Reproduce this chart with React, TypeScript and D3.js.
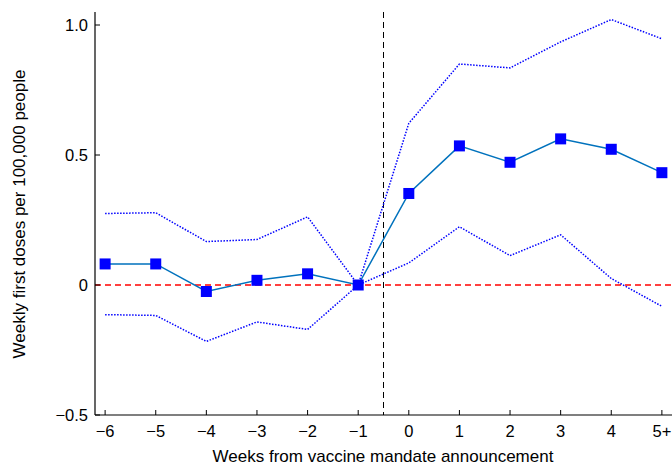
import * as d3 from 'd3';
import { useEffect, useRef } from 'react';

// weeks relative to the mandate announcement (5 = "5+")
const weeks = [-6, -5, -4, -3, -2, -1, 0, 1, 2, 3, 4, 5];
const tickLabels = ['−6', '−5', '−4', '−3', '−2', '−1', '0', '1', '2', '3', '4', '5+'];
const estimate = [0.081, 0.081, -0.025, 0.018, 0.043, 0, 0.352, 0.535, 0.472, 0.562, 0.522, 0.432];
const upperCI = [0.275, 0.278, 0.167, 0.175, 0.262, 0, 0.622, 0.85, 0.835, 0.935, 1.021, 0.947];
const lowerCI = [-0.114, -0.117, -0.217, -0.142, -0.171, 0, 0.085, 0.224, 0.113, 0.193, 0.025, -0.082];
const yTicks = [-0.5, 0, 0.5, 1.0];
const yTickLabels = ['−0.5', '0', '0.5', '1.0'];

export default function App() {
  const ref = useRef<SVGSVGElement>(null);

  useEffect(() => {
    const width = 672;
    const height = 465;
    const left = 95, right = 672, top = 12, bottom = 415;

    const svg = d3.select(ref.current);
    svg.selectAll('*').remove();
    svg.attr('width', width).attr('height', height);

    const x = d3.scaleLinear().domain([-6.2, 5.2]).range([left, right]);
    const y = d3.scaleLinear().domain([-0.5, 1.05]).range([bottom, top]);

    const font = '"Liberation Sans", Arial, sans-serif';

    // zero reference line
    svg.append('line')
      .attr('x1', left).attr('x2', right)
      .attr('y1', y(0)).attr('y2', y(0))
      .attr('stroke', '#ff0000').attr('stroke-width', 1.5)
      .attr('stroke-dasharray', '6 4');

    // announcement line
    svg.append('line')
      .attr('x1', x(-0.5)).attr('x2', x(-0.5))
      .attr('y1', top).attr('y2', bottom)
      .attr('stroke', '#000').attr('stroke-width', 1)
      .attr('stroke-dasharray', '6 4');

    const line = (vals: number[]) => d3.line<number>()
      .x((_, i) => x(weeks[i]))
      .y(d => y(d))(vals);

    // confidence bounds
    [upperCI, lowerCI].forEach(vals => {
      svg.append('path')
        .attr('d', line(vals))
        .attr('fill', 'none')
        .attr('stroke', '#0000ff')
        .attr('stroke-width', 1.5)
        .attr('stroke-dasharray', '1.5 1.5');
    });

    // point estimates
    svg.append('path')
      .attr('d', line(estimate))
      .attr('fill', 'none')
      .attr('stroke', '#0072bd')
      .attr('stroke-width', 1.5);

    svg.selectAll('rect.pt')
      .data(estimate)
      .enter()
      .append('rect')
      .attr('class', 'pt')
      .attr('x', (_, i) => x(weeks[i]) - 5.5)
      .attr('y', d => y(d) - 5.5)
      .attr('width', 11)
      .attr('height', 11)
      .attr('fill', '#0000ff');

    // axes
    const xAxis = svg.append('g');
    xAxis.append('line')
      .attr('x1', left).attr('x2', right)
      .attr('y1', bottom).attr('y2', bottom)
      .attr('stroke', '#000').attr('stroke-width', 1.2);
    weeks.forEach((w, i) => {
      xAxis.append('line')
        .attr('x1', x(w)).attr('x2', x(w))
        .attr('y1', bottom).attr('y2', bottom - 5)
        .attr('stroke', '#000');
      xAxis.append('text')
        .attr('x', x(w)).attr('y', bottom + 22)
        .attr('text-anchor', 'middle')
        .attr('font-family', font).attr('font-size', 16.5)
        .text(tickLabels[i]);
    });

    const yAxis = svg.append('g');
    yAxis.append('line')
      .attr('x1', left).attr('x2', left)
      .attr('y1', top).attr('y2', bottom)
      .attr('stroke', '#000').attr('stroke-width', 1.2);
    yTicks.forEach((t, i) => {
      yAxis.append('line')
        .attr('x1', left).attr('x2', left + 5)
        .attr('y1', y(t)).attr('y2', y(t))
        .attr('stroke', '#000');
      yAxis.append('text')
        .attr('x', left - 7).attr('y', y(t) + 6)
        .attr('text-anchor', 'end')
        .attr('font-family', font).attr('font-size', 16.5)
        .text(yTickLabels[i]);
    });

    svg.append('text')
      .attr('x', 383).attr('y', 462)
      .attr('text-anchor', 'middle')
      .attr('font-family', font).attr('font-size', 17)
      .text('Weeks from vaccine mandate announcement');

    svg.append('text')
      .attr('transform', 'translate(25,214) rotate(-90)')
      .attr('text-anchor', 'middle')
      .attr('font-family', font).attr('font-size', 17)
      .text('Weekly first doses per 100,000 people');
  }, []);

  return (
    <svg ref={ref} style={{ position: 'absolute', left: 0, top: 0 }} />
  );
}
